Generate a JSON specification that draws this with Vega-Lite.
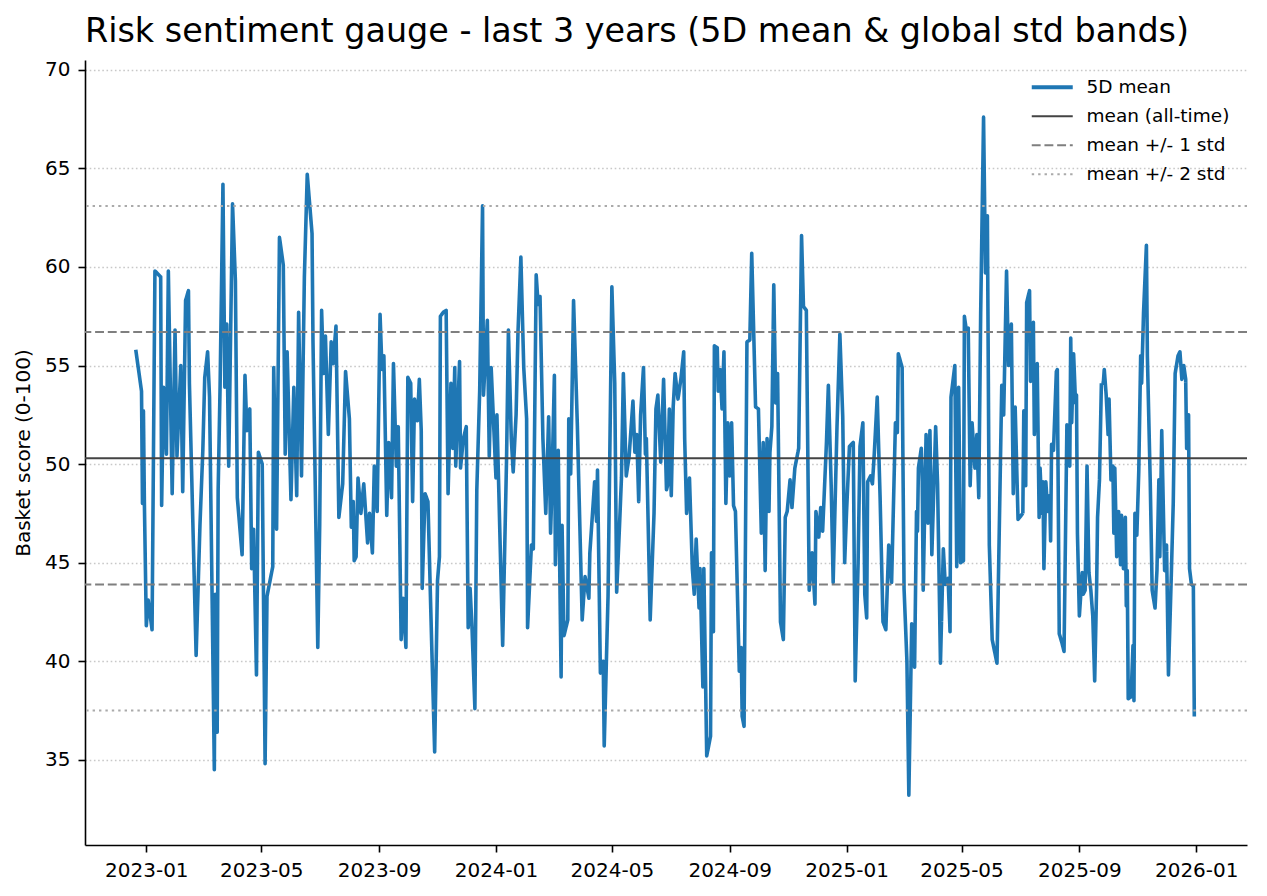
{
  "$schema": "https://vega.github.io/schema/vega-lite/v6.json",
  "width": 1162,
  "height": 785,
  "autosize": {"type": "none"},
  "padding": {"left": 85, "top": 60, "right": 20, "bottom": 51},
  "background": "white",
  "title": {
    "text": "Risk sentiment gauge - last 3 years (5D mean & global std bands)",
    "anchor": "start",
    "frame": "group",
    "font": "DejaVu Sans",
    "fontSize": 33.4,
    "fontWeight": "normal",
    "color": "black",
    "baseline": "bottom",
    "offset": 10,
    "dy": 33
  },
  "config": {
    "view": {"stroke": null},
    "font": "DejaVu Sans",
    "axis": {
      "labelFont": "DejaVu Sans",
      "labelFontSize": 20,
      "labelColor": "black",
      "titleFont": "DejaVu Sans",
      "titleFontSize": 20,
      "titleFontWeight": "normal",
      "titleColor": "black",
      "domainColor": "black",
      "domainWidth": 1.6,
      "tickColor": "black",
      "tickWidth": 1.6,
      "tickSize": 7
    },
    "legend": {
      "labelFont": "DejaVu Sans",
      "labelFontSize": 18.5,
      "labelColor": "black"
    }
  },
  "layer": [
    {
      "data": {
        "values": [
          {"date": "2022-12-21", "v": 55.8}, {"date": "2022-12-27", "v": 53.7}, {"date": "2022-12-28", "v": 48.0}, {"date": "2022-12-29", "v": 52.7},
          {"date": "2022-12-30", "v": 48.0}, {"date": "2023-01-01", "v": 41.8}, {"date": "2023-01-03", "v": 43.1}, {"date": "2023-01-07", "v": 41.6},
          {"date": "2023-01-10", "v": 59.8}, {"date": "2023-01-16", "v": 59.5}, {"date": "2023-01-17", "v": 47.9}, {"date": "2023-01-19", "v": 53.9},
          {"date": "2023-01-22", "v": 50.5}, {"date": "2023-01-24", "v": 59.8}, {"date": "2023-01-28", "v": 48.5}, {"date": "2023-01-31", "v": 56.8},
          {"date": "2023-02-02", "v": 50.4}, {"date": "2023-02-06", "v": 55.0}, {"date": "2023-02-08", "v": 48.6}, {"date": "2023-02-11", "v": 58.3},
          {"date": "2023-02-14", "v": 58.8}, {"date": "2023-02-15", "v": 54.1}, {"date": "2023-02-22", "v": 40.3}, {"date": "2023-02-26", "v": 46.9},
          {"date": "2023-03-01", "v": 50.7}, {"date": "2023-03-03", "v": 54.4}, {"date": "2023-03-06", "v": 55.7}, {"date": "2023-03-08", "v": 53.4},
          {"date": "2023-03-13", "v": 34.5}, {"date": "2023-03-14", "v": 43.4}, {"date": "2023-03-16", "v": 36.4}, {"date": "2023-03-17", "v": 48.7},
          {"date": "2023-03-19", "v": 53.9}, {"date": "2023-03-22", "v": 64.2}, {"date": "2023-03-24", "v": 53.9}, {"date": "2023-03-26", "v": 57.1},
          {"date": "2023-03-28", "v": 49.9}, {"date": "2023-04-01", "v": 63.2}, {"date": "2023-04-04", "v": 59.3}, {"date": "2023-04-06", "v": 48.3},
          {"date": "2023-04-11", "v": 45.4}, {"date": "2023-04-14", "v": 54.5}, {"date": "2023-04-16", "v": 51.7}, {"date": "2023-04-19", "v": 52.8},
          {"date": "2023-04-21", "v": 44.7}, {"date": "2023-04-23", "v": 46.7}, {"date": "2023-04-26", "v": 39.3}, {"date": "2023-04-28", "v": 50.6},
          {"date": "2023-05-02", "v": 50.0}, {"date": "2023-05-05", "v": 34.8}, {"date": "2023-05-07", "v": 43.3}, {"date": "2023-05-13", "v": 44.8},
          {"date": "2023-05-14", "v": 54.9}, {"date": "2023-05-17", "v": 46.7}, {"date": "2023-05-20", "v": 61.5}, {"date": "2023-05-24", "v": 60.1},
          {"date": "2023-05-26", "v": 50.5}, {"date": "2023-05-28", "v": 55.7}, {"date": "2023-06-01", "v": 48.2}, {"date": "2023-06-04", "v": 53.9},
          {"date": "2023-06-07", "v": 48.4}, {"date": "2023-06-09", "v": 57.7}, {"date": "2023-06-12", "v": 49.4}, {"date": "2023-06-15", "v": 59.5},
          {"date": "2023-06-18", "v": 64.7}, {"date": "2023-06-23", "v": 61.7}, {"date": "2023-06-24", "v": 56.2}, {"date": "2023-06-29", "v": 40.7},
          {"date": "2023-07-01", "v": 46.9}, {"date": "2023-07-03", "v": 57.8}, {"date": "2023-07-05", "v": 54.6}, {"date": "2023-07-07", "v": 56.5},
          {"date": "2023-07-10", "v": 51.5}, {"date": "2023-07-13", "v": 56.2}, {"date": "2023-07-15", "v": 55.1}, {"date": "2023-07-18", "v": 57.0},
          {"date": "2023-07-21", "v": 47.3}, {"date": "2023-07-25", "v": 49.0}, {"date": "2023-07-28", "v": 54.7}, {"date": "2023-08-01", "v": 52.3},
          {"date": "2023-08-03", "v": 46.8}, {"date": "2023-08-05", "v": 48.1}, {"date": "2023-08-06", "v": 45.1}, {"date": "2023-08-08", "v": 45.3},
          {"date": "2023-08-10", "v": 49.3}, {"date": "2023-08-13", "v": 47.5}, {"date": "2023-08-16", "v": 49.0}, {"date": "2023-08-20", "v": 46.0},
          {"date": "2023-08-22", "v": 47.5}, {"date": "2023-08-25", "v": 45.5}, {"date": "2023-08-27", "v": 49.9}, {"date": "2023-08-30", "v": 47.6},
          {"date": "2023-09-02", "v": 57.6}, {"date": "2023-09-04", "v": 54.8}, {"date": "2023-09-06", "v": 55.5}, {"date": "2023-09-09", "v": 47.4},
          {"date": "2023-09-11", "v": 51.1}, {"date": "2023-09-14", "v": 48.3}, {"date": "2023-09-16", "v": 55.1}, {"date": "2023-09-19", "v": 49.9},
          {"date": "2023-09-21", "v": 51.9}, {"date": "2023-09-24", "v": 41.1}, {"date": "2023-09-26", "v": 43.2}, {"date": "2023-09-29", "v": 40.7},
          {"date": "2023-10-01", "v": 54.4}, {"date": "2023-10-04", "v": 54.1}, {"date": "2023-10-06", "v": 48.1}, {"date": "2023-10-08", "v": 53.3},
          {"date": "2023-10-11", "v": 52.2}, {"date": "2023-10-13", "v": 54.3}, {"date": "2023-10-15", "v": 51.7}, {"date": "2023-10-16", "v": 43.7},
          {"date": "2023-10-19", "v": 48.5}, {"date": "2023-10-22", "v": 48.1}, {"date": "2023-10-26", "v": 40.7}, {"date": "2023-10-29", "v": 35.4},
          {"date": "2023-11-01", "v": 44.1}, {"date": "2023-11-03", "v": 45.3}, {"date": "2023-11-04", "v": 57.5}, {"date": "2023-11-07", "v": 57.7},
          {"date": "2023-11-10", "v": 57.8}, {"date": "2023-11-12", "v": 48.5}, {"date": "2023-11-15", "v": 54.1}, {"date": "2023-11-17", "v": 50.8},
          {"date": "2023-11-19", "v": 54.9}, {"date": "2023-11-20", "v": 49.9}, {"date": "2023-11-24", "v": 55.2}, {"date": "2023-11-25", "v": 49.8},
          {"date": "2023-11-28", "v": 51.3}, {"date": "2023-12-01", "v": 51.9}, {"date": "2023-12-03", "v": 41.7}, {"date": "2023-12-05", "v": 43.7},
          {"date": "2023-12-07", "v": 41.7}, {"date": "2023-12-10", "v": 37.6}, {"date": "2023-12-12", "v": 48.7}, {"date": "2023-12-15", "v": 53.7},
          {"date": "2023-12-18", "v": 63.1}, {"date": "2023-12-19", "v": 53.5}, {"date": "2023-12-23", "v": 57.3}, {"date": "2023-12-25", "v": 50.4},
          {"date": "2023-12-27", "v": 54.9}, {"date": "2024-01-01", "v": 49.3}, {"date": "2024-01-02", "v": 52.5}, {"date": "2024-01-08", "v": 40.8},
          {"date": "2024-01-12", "v": 50.1}, {"date": "2024-01-14", "v": 56.8}, {"date": "2024-01-17", "v": 51.3}, {"date": "2024-01-19", "v": 49.6},
          {"date": "2024-01-22", "v": 52.5}, {"date": "2024-01-24", "v": 56.7}, {"date": "2024-01-27", "v": 60.5}, {"date": "2024-01-30", "v": 54.9},
          {"date": "2024-02-02", "v": 52.3}, {"date": "2024-02-03", "v": 41.7}, {"date": "2024-02-07", "v": 45.9}, {"date": "2024-02-09", "v": 45.7},
          {"date": "2024-02-12", "v": 59.6}, {"date": "2024-02-14", "v": 58.1}, {"date": "2024-02-16", "v": 58.5}, {"date": "2024-02-19", "v": 51.3},
          {"date": "2024-02-22", "v": 47.5}, {"date": "2024-02-25", "v": 52.4}, {"date": "2024-02-27", "v": 46.5}, {"date": "2024-02-28", "v": 48.1},
          {"date": "2024-03-02", "v": 54.5}, {"date": "2024-03-03", "v": 44.9}, {"date": "2024-03-06", "v": 50.7}, {"date": "2024-03-09", "v": 39.2},
          {"date": "2024-03-10", "v": 46.9}, {"date": "2024-03-12", "v": 41.3}, {"date": "2024-03-16", "v": 42.1}, {"date": "2024-03-17", "v": 52.3},
          {"date": "2024-03-19", "v": 49.5}, {"date": "2024-03-22", "v": 58.3}, {"date": "2024-03-24", "v": 55.1}, {"date": "2024-03-26", "v": 51.9},
          {"date": "2024-03-31", "v": 42.1}, {"date": "2024-04-03", "v": 44.3}, {"date": "2024-04-07", "v": 43.2}, {"date": "2024-04-08", "v": 45.5},
          {"date": "2024-04-13", "v": 49.1}, {"date": "2024-04-15", "v": 47.1}, {"date": "2024-04-16", "v": 49.7}, {"date": "2024-04-19", "v": 39.4},
          {"date": "2024-04-22", "v": 40.0}, {"date": "2024-04-23", "v": 35.7}, {"date": "2024-04-27", "v": 43.3}, {"date": "2024-05-01", "v": 59.0},
          {"date": "2024-05-04", "v": 54.1}, {"date": "2024-05-06", "v": 43.5}, {"date": "2024-05-09", "v": 46.9}, {"date": "2024-05-11", "v": 49.3},
          {"date": "2024-05-13", "v": 54.6}, {"date": "2024-05-16", "v": 49.4}, {"date": "2024-05-19", "v": 50.4}, {"date": "2024-05-23", "v": 53.2},
          {"date": "2024-05-25", "v": 50.6}, {"date": "2024-05-27", "v": 51.5}, {"date": "2024-05-29", "v": 48.1}, {"date": "2024-05-31", "v": 52.5},
          {"date": "2024-06-03", "v": 54.9}, {"date": "2024-06-05", "v": 50.5}, {"date": "2024-06-06", "v": 51.3}, {"date": "2024-06-10", "v": 42.1},
          {"date": "2024-06-14", "v": 47.5}, {"date": "2024-06-16", "v": 52.8}, {"date": "2024-06-18", "v": 53.5}, {"date": "2024-06-21", "v": 50.1},
          {"date": "2024-06-24", "v": 54.3}, {"date": "2024-06-27", "v": 48.7}, {"date": "2024-06-28", "v": 48.9}, {"date": "2024-06-30", "v": 52.8},
          {"date": "2024-07-02", "v": 48.4}, {"date": "2024-07-04", "v": 52.9}, {"date": "2024-07-06", "v": 54.6}, {"date": "2024-07-09", "v": 53.3},
          {"date": "2024-07-12", "v": 54.3}, {"date": "2024-07-15", "v": 55.7}, {"date": "2024-07-16", "v": 51.3}, {"date": "2024-07-18", "v": 47.5},
          {"date": "2024-07-21", "v": 49.3}, {"date": "2024-07-24", "v": 44.7}, {"date": "2024-07-26", "v": 43.4}, {"date": "2024-07-28", "v": 46.2},
          {"date": "2024-07-31", "v": 42.7}, {"date": "2024-08-01", "v": 44.7}, {"date": "2024-08-04", "v": 38.7}, {"date": "2024-08-05", "v": 44.7},
          {"date": "2024-08-08", "v": 35.2}, {"date": "2024-08-12", "v": 36.2}, {"date": "2024-08-13", "v": 45.5}, {"date": "2024-08-15", "v": 41.5},
          {"date": "2024-08-16", "v": 56.0}, {"date": "2024-08-19", "v": 55.9}, {"date": "2024-08-20", "v": 53.7}, {"date": "2024-08-22", "v": 54.8},
          {"date": "2024-08-24", "v": 52.8}, {"date": "2024-08-26", "v": 55.7}, {"date": "2024-08-28", "v": 48.0}, {"date": "2024-08-30", "v": 52.1},
          {"date": "2024-09-01", "v": 49.4}, {"date": "2024-09-03", "v": 52.1}, {"date": "2024-09-05", "v": 47.9}, {"date": "2024-09-07", "v": 47.6},
          {"date": "2024-09-11", "v": 39.5}, {"date": "2024-09-13", "v": 40.7}, {"date": "2024-09-14", "v": 37.2}, {"date": "2024-09-16", "v": 36.7},
          {"date": "2024-09-19", "v": 56.2}, {"date": "2024-09-22", "v": 56.3}, {"date": "2024-09-24", "v": 60.7}, {"date": "2024-09-26", "v": 56.8},
          {"date": "2024-09-28", "v": 52.9}, {"date": "2024-10-01", "v": 52.8}, {"date": "2024-10-04", "v": 46.5}, {"date": "2024-10-06", "v": 51.1},
          {"date": "2024-10-08", "v": 44.6}, {"date": "2024-10-10", "v": 51.3}, {"date": "2024-10-12", "v": 47.6}, {"date": "2024-10-13", "v": 50.6},
          {"date": "2024-10-15", "v": 51.9}, {"date": "2024-10-17", "v": 59.1}, {"date": "2024-10-19", "v": 53.1}, {"date": "2024-10-21", "v": 54.6},
          {"date": "2024-10-24", "v": 42.0}, {"date": "2024-10-27", "v": 41.1}, {"date": "2024-10-29", "v": 47.3}, {"date": "2024-10-31", "v": 47.6},
          {"date": "2024-11-03", "v": 49.2}, {"date": "2024-11-05", "v": 47.8}, {"date": "2024-11-08", "v": 49.8}, {"date": "2024-11-12", "v": 50.8},
          {"date": "2024-11-15", "v": 61.6}, {"date": "2024-11-17", "v": 58.0}, {"date": "2024-11-20", "v": 57.8}, {"date": "2024-11-23", "v": 43.6},
          {"date": "2024-11-26", "v": 45.5}, {"date": "2024-11-29", "v": 42.9}, {"date": "2024-11-30", "v": 47.6}, {"date": "2024-12-03", "v": 46.3},
          {"date": "2024-12-05", "v": 47.8}, {"date": "2024-12-07", "v": 46.6}, {"date": "2024-12-11", "v": 51.1}, {"date": "2024-12-13", "v": 54.0},
          {"date": "2024-12-16", "v": 48.8}, {"date": "2024-12-18", "v": 44.0}, {"date": "2024-12-22", "v": 51.9}, {"date": "2024-12-25", "v": 56.6},
          {"date": "2024-12-28", "v": 52.4}, {"date": "2024-12-30", "v": 45.0}, {"date": "2025-01-01", "v": 47.6}, {"date": "2025-01-04", "v": 50.9},
          {"date": "2025-01-08", "v": 51.1}, {"date": "2025-01-10", "v": 39.0}, {"date": "2025-01-13", "v": 44.9}, {"date": "2025-01-15", "v": 50.9},
          {"date": "2025-01-18", "v": 52.1}, {"date": "2025-01-20", "v": 43.4}, {"date": "2025-01-22", "v": 42.2}, {"date": "2025-01-23", "v": 49.1},
          {"date": "2025-01-26", "v": 49.4}, {"date": "2025-01-28", "v": 49.0}, {"date": "2025-01-30", "v": 50.6}, {"date": "2025-02-02", "v": 53.4},
          {"date": "2025-02-05", "v": 48.3}, {"date": "2025-02-08", "v": 42.0}, {"date": "2025-02-11", "v": 41.6}, {"date": "2025-02-14", "v": 45.9},
          {"date": "2025-02-17", "v": 44.0}, {"date": "2025-02-21", "v": 52.1}, {"date": "2025-02-23", "v": 51.6}, {"date": "2025-02-24", "v": 55.6},
          {"date": "2025-02-28", "v": 54.9}, {"date": "2025-03-02", "v": 43.7}, {"date": "2025-03-05", "v": 40.0}, {"date": "2025-03-07", "v": 33.2},
          {"date": "2025-03-10", "v": 41.9}, {"date": "2025-03-13", "v": 39.7}, {"date": "2025-03-15", "v": 47.6}, {"date": "2025-03-16", "v": 46.6},
          {"date": "2025-03-17", "v": 49.8}, {"date": "2025-03-20", "v": 50.8}, {"date": "2025-03-21", "v": 49.1}, {"date": "2025-03-22", "v": 43.6},
          {"date": "2025-03-25", "v": 51.5}, {"date": "2025-03-27", "v": 47.0}, {"date": "2025-03-29", "v": 51.7}, {"date": "2025-03-31", "v": 45.4},
          {"date": "2025-04-04", "v": 51.9}, {"date": "2025-04-06", "v": 49.0}, {"date": "2025-04-09", "v": 39.9}, {"date": "2025-04-12", "v": 45.7},
          {"date": "2025-04-14", "v": 43.9}, {"date": "2025-04-17", "v": 44.2}, {"date": "2025-04-19", "v": 41.5}, {"date": "2025-04-20", "v": 53.4},
          {"date": "2025-04-24", "v": 55.0}, {"date": "2025-04-26", "v": 44.8}, {"date": "2025-04-28", "v": 53.9}, {"date": "2025-04-30", "v": 45.0},
          {"date": "2025-05-03", "v": 45.1}, {"date": "2025-05-04", "v": 57.5}, {"date": "2025-05-06", "v": 56.8}, {"date": "2025-05-08", "v": 56.9},
          {"date": "2025-05-10", "v": 48.9}, {"date": "2025-05-12", "v": 52.1}, {"date": "2025-05-15", "v": 49.8}, {"date": "2025-05-17", "v": 51.5},
          {"date": "2025-05-19", "v": 48.3}, {"date": "2025-05-21", "v": 57.7}, {"date": "2025-05-24", "v": 67.6}, {"date": "2025-05-26", "v": 59.7},
          {"date": "2025-05-28", "v": 62.6}, {"date": "2025-05-30", "v": 45.9}, {"date": "2025-06-02", "v": 41.1}, {"date": "2025-06-07", "v": 39.9},
          {"date": "2025-06-12", "v": 54.0}, {"date": "2025-06-14", "v": 52.5}, {"date": "2025-06-17", "v": 59.8}, {"date": "2025-06-19", "v": 55.0},
          {"date": "2025-06-22", "v": 57.1}, {"date": "2025-06-24", "v": 48.5}, {"date": "2025-06-26", "v": 52.9}, {"date": "2025-06-29", "v": 47.2},
          {"date": "2025-07-04", "v": 47.5}, {"date": "2025-07-05", "v": 52.7}, {"date": "2025-07-07", "v": 48.9}, {"date": "2025-07-08", "v": 58.2},
          {"date": "2025-07-11", "v": 58.8}, {"date": "2025-07-12", "v": 54.2}, {"date": "2025-07-15", "v": 57.2}, {"date": "2025-07-16", "v": 51.5},
          {"date": "2025-07-19", "v": 55.1}, {"date": "2025-07-21", "v": 47.3}, {"date": "2025-07-22", "v": 49.8}, {"date": "2025-07-24", "v": 47.5},
          {"date": "2025-07-25", "v": 49.1}, {"date": "2025-07-26", "v": 44.7}, {"date": "2025-07-28", "v": 49.1}, {"date": "2025-07-30", "v": 47.6},
          {"date": "2025-08-01", "v": 48.4}, {"date": "2025-08-02", "v": 46.1}, {"date": "2025-08-03", "v": 51.0}, {"date": "2025-08-05", "v": 50.7},
          {"date": "2025-08-08", "v": 54.7}, {"date": "2025-08-09", "v": 54.8}, {"date": "2025-08-11", "v": 41.4}, {"date": "2025-08-14", "v": 40.9},
          {"date": "2025-08-16", "v": 40.5}, {"date": "2025-08-19", "v": 52.0}, {"date": "2025-08-22", "v": 49.9}, {"date": "2025-08-23", "v": 56.4},
          {"date": "2025-08-24", "v": 52.1}, {"date": "2025-08-26", "v": 55.6}, {"date": "2025-08-28", "v": 53.1}, {"date": "2025-08-29", "v": 53.5},
          {"date": "2025-08-30", "v": 46.5}, {"date": "2025-09-01", "v": 42.3}, {"date": "2025-09-04", "v": 44.5}, {"date": "2025-09-05", "v": 43.4},
          {"date": "2025-09-07", "v": 43.6}, {"date": "2025-09-09", "v": 49.9}, {"date": "2025-09-11", "v": 44.5}, {"date": "2025-09-13", "v": 43.6},
          {"date": "2025-09-15", "v": 42.3}, {"date": "2025-09-17", "v": 39.0}, {"date": "2025-09-19", "v": 43.7}, {"date": "2025-09-20", "v": 47.3},
          {"date": "2025-09-22", "v": 49.2}, {"date": "2025-09-24", "v": 54.1}, {"date": "2025-09-26", "v": 54.1}, {"date": "2025-09-27", "v": 54.8},
          {"date": "2025-09-29", "v": 53.5}, {"date": "2025-10-01", "v": 51.5}, {"date": "2025-10-02", "v": 53.3}, {"date": "2025-10-04", "v": 49.2},
          {"date": "2025-10-06", "v": 49.9}, {"date": "2025-10-07", "v": 46.5}, {"date": "2025-10-08", "v": 49.8}, {"date": "2025-10-10", "v": 45.3},
          {"date": "2025-10-12", "v": 47.6}, {"date": "2025-10-14", "v": 44.9}, {"date": "2025-10-15", "v": 47.4}, {"date": "2025-10-17", "v": 44.7},
          {"date": "2025-10-19", "v": 47.3}, {"date": "2025-10-20", "v": 42.8}, {"date": "2025-10-21", "v": 44.6}, {"date": "2025-10-22", "v": 38.1},
          {"date": "2025-10-25", "v": 38.2}, {"date": "2025-10-27", "v": 40.8}, {"date": "2025-10-28", "v": 38.0}, {"date": "2025-10-29", "v": 47.5},
          {"date": "2025-10-31", "v": 46.4}, {"date": "2025-11-02", "v": 49.6}, {"date": "2025-11-04", "v": 55.5}, {"date": "2025-11-05", "v": 54.1},
          {"date": "2025-11-07", "v": 57.7}, {"date": "2025-11-10", "v": 61.1}, {"date": "2025-11-11", "v": 55.5}, {"date": "2025-11-14", "v": 49.1},
          {"date": "2025-11-16", "v": 43.6}, {"date": "2025-11-19", "v": 42.7}, {"date": "2025-11-21", "v": 44.6}, {"date": "2025-11-23", "v": 49.2},
          {"date": "2025-11-24", "v": 45.3}, {"date": "2025-11-26", "v": 51.7}, {"date": "2025-11-29", "v": 44.6}, {"date": "2025-12-01", "v": 45.9},
          {"date": "2025-12-03", "v": 39.3}, {"date": "2025-12-06", "v": 44.4}, {"date": "2025-12-08", "v": 48.0}, {"date": "2025-12-10", "v": 54.6},
          {"date": "2025-12-13", "v": 55.5}, {"date": "2025-12-15", "v": 55.7}, {"date": "2025-12-17", "v": 54.3}, {"date": "2025-12-19", "v": 55.0},
          {"date": "2025-12-21", "v": 54.3}, {"date": "2025-12-22", "v": 50.8}, {"date": "2025-12-24", "v": 52.5}, {"date": "2025-12-25", "v": 44.7},
          {"date": "2025-12-27", "v": 43.9}, {"date": "2025-12-29", "v": 43.8}, {"date": "2025-12-30", "v": 37.2}
        ]
      },
      "mark": {"type": "line", "strokeWidth": 3.6, "strokeJoin": "round", "clip": true},
      "encoding": {
        "x": {
          "field": "date",
          "type": "temporal",
          "scale": {
            "type": "utc",
            "domain": [
              {"year": 2022, "month": 10, "date": 29, "utc": true},
              {"year": 2026, "month": 2, "date": 23, "utc": true}
            ]
          },
          "axis": {
            "title": null,
            "format": "%Y-%m",
            "grid": false,
            "labelPadding": 8,
            "labelFlush": false,
            "labelOverlap": false,
            "values": [
              {"year": 2023, "month": 1, "date": 1, "utc": true},
              {"year": 2023, "month": 5, "date": 1, "utc": true},
              {"year": 2023, "month": 9, "date": 1, "utc": true},
              {"year": 2024, "month": 1, "date": 1, "utc": true},
              {"year": 2024, "month": 5, "date": 1, "utc": true},
              {"year": 2024, "month": 9, "date": 1, "utc": true},
              {"year": 2025, "month": 1, "date": 1, "utc": true},
              {"year": 2025, "month": 5, "date": 1, "utc": true},
              {"year": 2025, "month": 9, "date": 1, "utc": true},
              {"year": 2026, "month": 1, "date": 1, "utc": true}
            ]
          }
        },
        "y": {
          "field": "v",
          "type": "quantitative",
          "title": "Basket score (0-100)",
          "scale": {"domain": [30.68, 70.5], "nice": false, "zero": false},
          "axis": {
            "values": [35, 40, 45, 50, 55, 60, 65, 70],
            "grid": true,
            "gridColor": "#c8c8c8",
            "gridDash": [1.6, 2.6],
            "gridWidth": 1.3,
            "labelPadding": 8,
            "labelFlush": false,
            "titlePadding": 11
          }
        },
        "color": {
          "datum": "5D mean",
          "type": "nominal",
          "title": null,
          "scale": {
            "domain": ["5D mean", "mean (all-time)", "mean +/- 1 std", "mean +/- 2 std"],
            "range": ["#1f77b4", "#444444", "#7f7f7f", "#aaaaaa"]
          },
          "legend": {
            "title": null,
            "orient": "none",
            "legendX": 958,
            "legendY": 18,
            "padding": 0,
            "symbolType": "stroke",
            "symbolSize": 1681,
            "symbolStrokeWidth": 2.2,
            "labelOffset": 25,
            "rowPadding": 10,
            "encode": {
              "symbols": {
                "update": {
                  "strokeWidth": {"signal": "datum.value === '5D mean' ? 3.8 : 2.2"}
                }
              }
            }
          }
        },
        "strokeDash": {
          "datum": "5D mean",
          "type": "nominal",
          "title": null,
          "scale": {
            "domain": ["5D mean", "mean (all-time)", "mean +/- 1 std", "mean +/- 2 std"],
            "range": [[1, 0], [1, 0], [8.9, 3.8], [2.4, 4]]
          }
        }
      }
    },
    {
      "data": {
        "values": [
          {"series": "mean (all-time)", "value": 50.3},
          {"series": "mean +/- 1 std", "value": 56.7},
          {"series": "mean +/- 1 std", "value": 43.9},
          {"series": "mean +/- 2 std", "value": 63.1},
          {"series": "mean +/- 2 std", "value": 37.5}
        ]
      },
      "mark": {"type": "rule", "strokeWidth": 2},
      "encoding": {
        "y": {"field": "value", "type": "quantitative", "title": "Basket score (0-100)"},
        "color": {
          "field": "series",
          "type": "nominal",
          "title": null,
          "scale": {
            "domain": ["5D mean", "mean (all-time)", "mean +/- 1 std", "mean +/- 2 std"],
            "range": ["#1f77b4", "#444444", "#7f7f7f", "#aaaaaa"]
          }
        },
        "strokeDash": {
          "field": "series",
          "type": "nominal",
          "title": null,
          "scale": {
            "domain": ["5D mean", "mean (all-time)", "mean +/- 1 std", "mean +/- 2 std"],
            "range": [[1, 0], [1, 0], [8.9, 3.8], [2.4, 4]]
          }
        }
      }
    }
  ]
}
